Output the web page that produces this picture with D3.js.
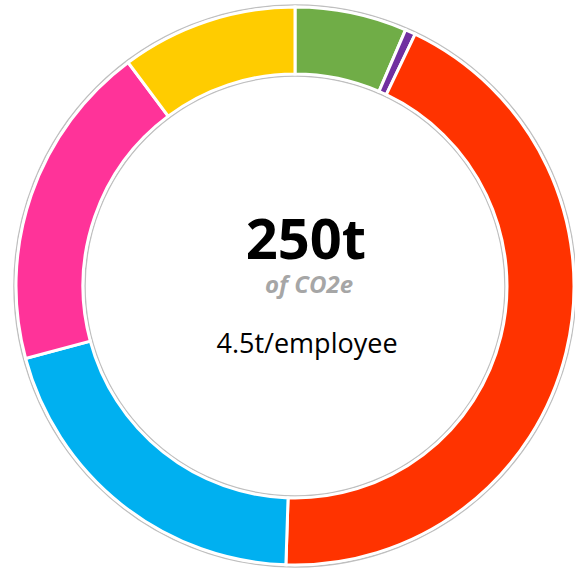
<!DOCTYPE html>
<html>
<head>
<meta charset="utf-8">
<script src="https://cdn.jsdelivr.net/npm/d3@7"></script>
<style>
  body { margin: 0; background: #fff; }
</style>
</head>
<body>
<div id="donutViz"></div>
<script>
var categories = ["Source A", "Source B", "Source C", "Source D", "Source E", "Source F"]
var values = [16.2, 1.5, 108.5, 50.7, 47.4, 25.5]
var colors = ["#70ad47", "#7030a0", "#ff3300", "#00b0f0", "#ff3399", "#ffcc00"]
var totalLabel = "250t"
var unitLabel = "of CO2e"
var perEmployeeLabel = "4.5t/employee"

// set the dimensions
var width = 575
	height = 571
	cx = 295
	cy = 286
	outerR = 279
	innerR = 212

var svg = d3.select("#donutViz")
	.append("svg")
	.attr("width", width)
	.attr("height", height)
	.append("g")
	.attr("transform", "translate(" + cx + "," + cy + ")")

var color = d3.scaleOrdinal()
	.domain(categories)
	.range(colors)

var pie = d3.pie()
	.sort(null)
	.value(function(d) { return d.value })

var data_ready = pie(categories.map(function(c, i) { return {key: c, value: values[i]} }))

// thin grey rims outside the slices
svg.append("circle")
	.attr("r", outerR + 2)
	.attr("fill", "none")
	.attr("stroke", "#bfbfbf")
	.attr("stroke-width", 1.5)
svg.append("circle")
	.attr("r", innerR - 2)
	.attr("fill", "none")
	.attr("stroke", "#bfbfbf")
	.attr("stroke-width", 1.5)

svg.selectAll("slice")
	.data(data_ready)
	.enter()
	.append("path")
	.attr("d", d3.arc()
		.innerRadius(innerR)
		.outerRadius(outerR)
	)
	.attr("fill", function(d) { return color(d.data.key) })
	.attr("stroke", "white")
	.style("stroke-width", "3px")

// centre labels
var tx = 11
svg.append("text")
	.text(totalLabel)
	.attr("x", tx)
	.attr("y", -27)
	.attr("text-anchor", "middle")
	.attr("font-family", "Open Sans")
	.attr("font-weight", "bold")
	.attr("font-size", 56)
	.attr("fill", "#000")

svg.append("text")
	.text(unitLabel)
	.attr("x", tx + 3)
	.attr("y", 7)
	.attr("text-anchor", "middle")
	.attr("font-family", "Open Sans")
	.attr("font-weight", "bold")
	.attr("font-style", "italic")
	.attr("font-size", 24)
	.attr("fill", "#a6a6a6")

svg.append("text")
	.text(perEmployeeLabel)
	.attr("x", tx + 1)
	.attr("y", 67)
	.attr("text-anchor", "middle")
	.attr("font-family", "Open Sans")
	.attr("font-size", 27)
	.attr("fill", "#000")
</script>
</body>
</html>
